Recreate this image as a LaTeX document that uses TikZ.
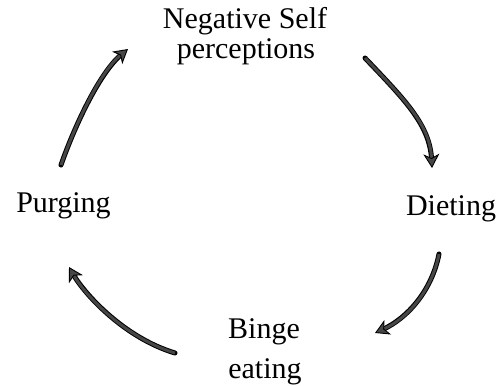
\documentclass[tikz,border=0pt]{standalone}
\usepackage{fontspec}
\setmainfont{Liberation Serif}
\usetikzlibrary{arrows.meta}
\definecolor{arrowgray}{RGB}{70,70,70}
\tikzset{
  label/.style={inner sep=0pt, anchor=base, font=\fontsize{30}{30}\selectfont},
  cyclearrow/.style={
    arrowgray, line width=3pt,
    -{Stealth[length=14pt, width=16pt, inset=4pt, line width=0.9pt, color=black, fill=arrowgray]},
    preaction={draw=black, line width=5pt, -, line cap=round, shorten >=8pt}
  }
}
\begin{document}
\begin{tikzpicture}[x=1pt, y=-1pt]
  \useasboundingbox (0,0) rectangle (502,385);

  % labels of the cycle
  \node[label] (neg1) at (245,29) {Negative Self};
  \node[label] (neg2) at (246,59) {perceptions};
  \node[label] (diet) at (451,215) {Dieting};
  \node[label] (binge1) at (264,338) {Binge};
  \node[label] (binge2) at (265,378) {eating};
  \node[label] (purge) at (63.5,212) {Purging};

  % end points of the arrows
  \coordinate (a1s) at (365,58);  \coordinate (a1e) at (432,168);
  \coordinate (a2s) at (439,254); \coordinate (a2e) at (375,333);
  \coordinate (a3s) at (175,353); \coordinate (a3e) at (69,267);
  \coordinate (a4s) at (61,165);  \coordinate (a4e) at (128,49);

  % arrows between the stages
  \draw[cyclearrow] (a1s) .. controls (405,100) and (430,125) .. (a1e);
  \draw[cyclearrow] (a2s) .. controls (432,290) and (408,318) .. (a2e);
  \draw[cyclearrow] (a3s) .. controls (125,338) and (85,295) .. (a3e);
  \draw[cyclearrow] (a4s) .. controls (75,125) and (100,72) .. (a4e);
\end{tikzpicture}
\end{document}
